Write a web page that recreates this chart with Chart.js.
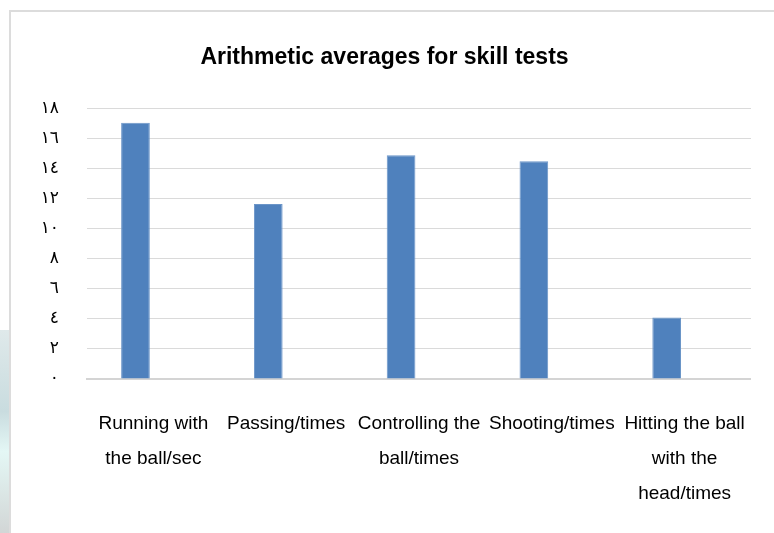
<!DOCTYPE html>
<html>
<head>
<meta charset="utf-8">
<script src="https://cdn.jsdelivr.net/npm/chart.js@4/dist/chart.umd.min.js"></script>
<style>
  body { margin: 0; background: #fff; width: 774px; height: 533px; overflow: hidden; position: relative; }
  #strip { position: absolute; left: 0; top: 330px; width: 9px; height: 203px;
           background: linear-gradient(#dfe9ea, #c9dcdf 40%, #e4f7f5 60%, #d2d6d6); }
  #frame { position: absolute; left: 9px; top: 10px; width: 800px; height: 600px;
           border-top: 2px solid #dcdcdc; border-left: 2px solid #dcdcdc; }
  #wrap { position: absolute; left: 0; top: 0; width: 774px; height: 533px; }
</style>
</head>
<body>
<div id="strip"></div>
<div id="frame"></div>
<div id="wrap"><canvas id="myChart" width="774" height="533"></canvas></div>
<script>
const categories = [
    ["Running with", "the ball/sec"],
    ["Passing/times"],
    ["Controlling the", "ball/times"],
    ["Shooting/times"],
    ["Hitting the ball", "with the", "head/times"]
];
const averages = [17.05, 11.65, 14.9, 14.5, 4.1];
const emptySeries = [null, null, null, null, null];
const yTickLabels = ["٠", "٢", "٤", "٦", "٨", "١٠", "١٢", "١٤", "١٦", "١٨"];

const myChart = new Chart("myChart", {
    type: "bar",
    data: {
        labels: categories,
        datasets: [{
            data: averages,
            backgroundColor: "#4f81bd",
            borderColor: "#6b95c8",
            borderWidth: 1,
            categoryPercentage: 0.54,
            barPercentage: 0.8
        }, {
            data: emptySeries,
            categoryPercentage: 0.54,
            barPercentage: 0.8
        }]
    },
    options: {
        responsive: false,
        animation: false,
        devicePixelRatio: 1,
        layout: { padding: { left: 17, right: 22, top: 0, bottom: 0 } },
        plugins: {
            legend: { display: false },
            tooltip: { enabled: false },
            title: {
                display: true,
                text: "Arithmetic averages for skill tests",
                color: "#000",
                font: { family: "Liberation Sans", size: 23, weight: "bold", lineHeight: 1.2 },
                padding: { top: 44, bottom: 37 }
            }
        },
        scales: {
            x: {
                grid: { display: false, drawTicks: false },
                border: { display: true, color: "#d4d4d4", width: 2 },
                ticks: {
                    color: "#000",
                    font: { family: "Liberation Sans", size: 19, lineHeight: 1.84 },
                    padding: 27,
                    maxRotation: 0,
                    autoSkip: false
                },
                afterFit: s => { s.height = 154; }
            },
            y: {
                min: 0,
                max: 18,
                grid: { color: "#dadada", lineWidth: 1, drawTicks: false },
                border: { display: false },
                ticks: {
                    stepSize: 2,
                    color: "#000",
                    padding: 28,
                    font: { family: "DejaVu Sans", size: 17 },
                    callback: v => yTickLabels[v / 2]
                },
                afterFit: s => { s.width = 70; }
            }
        }
    }
});
</script>
</body>
</html>
